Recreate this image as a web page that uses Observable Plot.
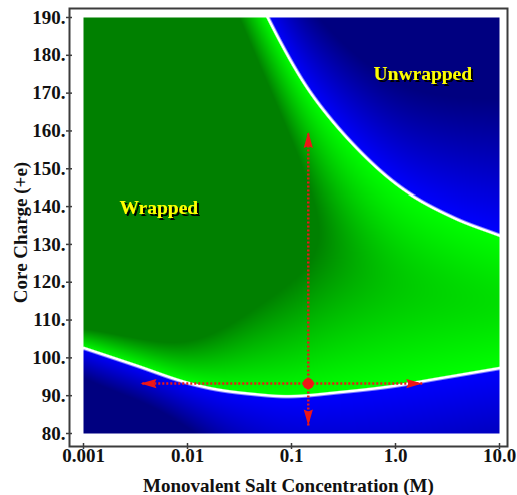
<!DOCTYPE html>
<html><head><meta charset="utf-8">
<script src="https://cdn.jsdelivr.net/npm/d3@7"></script>
<script src="https://cdn.jsdelivr.net/npm/@observablehq/plot@0.6"></script>
<style>body{margin:0;background:#fff}</style>
</head><body><div id="chart"></div>
<script>
// ---- data ----
const saltTicks = [0.001, 0.01, 0.1, 1.0, 10.0];
const saltTickLabels = ["0.001", "0.01", "0.1", "1.0", "10.0"];
const chargeTicks = [80, 90, 100, 110, 120, 130, 140, 150, 160, 170, 180, 190];

// upper (wrapped -> unwrapped) boundary; first points lie above the visible range
const upperSalt   = [0.001, 0.003, 0.01, 0.03, 0.058, 0.12, 0.2, 0.52, 1.2, 3.6, 10];
const upperCharge = [325, 282, 240, 207, 190, 174.1, 165.4, 152.7, 144.3, 137.1, 132.4];
// lower boundary
const lowerSalt   = [0.001, 0.00316, 0.00957, 0.0186, 0.0404, 0.0916, 0.296, 0.895, 2.71, 10];
const lowerCharge = [102.74, 98.16, 93.67, 91.82, 90.63, 89.97, 91.1, 92.6, 94.8, 97.45];

// widths (charge units) over which the shading fades away from each boundary
const fadeSalt       = [0.001, 0.01, 0.1, 1, 10];
const greenLowerFade = [5, 11, 30, 50, 55];
const greenUpperFade = [15, 15, 20, 45, 55];
const blueLowerFade  = [8, 12, 30, 35, 35];
const blueUpperFade  = [18, 20, 22, 27, 36];

const regionLabels = ["Wrapped", "Unwrapped"];
const regionSalt   = [0.0053, 1.83];
const regionCharge = [139.8, 175.2];

const pointSalt = 0.145, pointCharge = 93.2;
const tipSalt   = [0.145, 0.145, 0.00353, 1.81];
const tipCharge = [159.7, 82.1, 93.2, 93.2];

// ---- layout ----
const W = 517, H = 495;
const mL = 69, mT = 8, mR = 10, mB = 49;
const xDomain = [-3 - 14 / 104, 1 + 8 / 104];
const yDomain = [80 - 13 / 3.782, 190 + 9 / 3.782];
const kx = (W - mL - mR) / (xDomain[1] - xDomain[0]);
const ky = (H - mT - mB) / (yDomain[1] - yDomain[0]);

function hermite(xs, ys, clampEnds) {
  const n = xs.length, m = new Array(n);
  for (let i = 0; i < n; i++) {
    if (i === 0) m[i] = (ys[1] - ys[0]) / (xs[1] - xs[0]);
    else if (i === n - 1) m[i] = (ys[n - 1] - ys[n - 2]) / (xs[n - 1] - xs[n - 2]);
    else m[i] = ((ys[i + 1] - ys[i]) / (xs[i + 1] - xs[i]) + (ys[i] - ys[i - 1]) / (xs[i] - xs[i - 1])) / 2;
  }
  return u => {
    if (u <= xs[0]) return clampEnds ? ys[0] : ys[0] + m[0] * (u - xs[0]);
    if (u >= xs[n - 1]) return clampEnds ? ys[n - 1] : ys[n - 1] + m[n - 1] * (u - xs[n - 1]);
    let i = 0; while (u > xs[i + 1]) i++;
    const h = xs[i + 1] - xs[i], t = (u - xs[i]) / h, t2 = t * t, t3 = t2 * t;
    return (2 * t3 - 3 * t2 + 1) * ys[i] + (t3 - 2 * t2 + t) * h * m[i] + (-2 * t3 + 3 * t2) * ys[i + 1] + (t3 - t2) * h * m[i + 1];
  };
}
const L = a => a.map(Math.log10);
const upperAt = hermite(L(upperSalt), upperCharge);
const lowerAt = hermite(L(lowerSalt), lowerCharge);
const gLo = hermite(L(fadeSalt), greenLowerFade, true);
const gUp = hermite(L(fadeSalt), greenUpperFade, true);
const bLo = hermite(L(fadeSalt), blueLowerFade, true);
const bUp = hermite(L(fadeSalt), blueUpperFade, true);

function edge(p, r, g, b, w) {
  if (p <= 0.7) return "rgb(255,255,255)";
  const k = Math.min(1, (p - 0.7) / w);
  const mix = (a) => Math.round(255 + (a - 255) * k);
  return `rgb(${mix(r)},${mix(g)},${mix(b)})`;
}
function colorAt(u, c) {
  const lo = lowerAt(u), up = upperAt(u), e = 1e-3;
  const sLo = (lowerAt(u + e) - lowerAt(u - e)) / (2 * e) * ky / kx;
  const sUp = (upperAt(u + e) - upperAt(u - e)) / (2 * e) * ky / kx;
  const pLo = Math.abs(c - lo) * ky / Math.hypot(1, sLo);
  const pUp = Math.abs(c - up) * ky / Math.hypot(1, sUp);
  if (c > lo && c < up) {
    const a = (c - lo) / gLo(u), b = (up - c) / gUp(u);
    const t = Math.min(1, Math.pow(Math.pow(a, -3) + Math.pow(b, -3), -1 / 3));
    const G = 255 - 127 * t;
    return edge(Math.min(pLo, pUp), 0, G, 0, 1.2);
  }
  const below = c <= lo;
  const d = below ? lo - c : c - up;
  const t = Math.min(1, d / (below ? bLo(u) : bUp(u)));
  const B = 255 - 127 * t;
  return edge(below ? pLo : pUp, 0, 0, B, 2);
}

const tips = tipSalt.map((s, i) => ({u: Math.log10(s), c: tipCharge[i]}));
const pu = Math.log10(pointSalt);
tips.forEach(t => {
  t.rot = Math.abs(t.u - pu) < 1e-9 ? (t.c > pointCharge ? 0 : 180) : (t.u > pu ? 90 : -90);
});
const headSymbol = {
  draw(ctx) { ctx.moveTo(0, 0); ctx.lineTo(4.6, 16); ctx.lineTo(0, 14); ctx.lineTo(-4.6, 16); ctx.closePath(); }
};
const labels = regionLabels.map((t, i) => ({t, u: Math.log10(regionSalt[i]), c: regionCharge[i]}));
const tickLabel = d => saltTickLabels[saltTicks.findIndex(s => Math.abs(Math.log10(s) - d) < 1e-9)];
const red = "#ee1616";
const font = "Liberation Serif, Times New Roman, serif";

const chart = Plot.plot({
  width: W, height: H,
  marginLeft: mL, marginTop: mT, marginRight: mR, marginBottom: mB,
  style: {fontFamily: font, fontWeight: "bold", background: "#fff", color: "#000"},
  x: {type: "linear", domain: xDomain},
  y: {type: "linear", domain: yDomain},
  color: {type: "identity"},
  marks: [
    Plot.raster({x1: -3, x2: 1, y1: 80, y2: 190, width: 416, height: 416, fill: colorAt, imageRendering: "pixelated"}),
    Plot.frame({stroke: "#3c3c3c", strokeWidth: 2}),
    Plot.axisX(L(saltTicks), {anchor: "bottom", tickSize: 6, dy: -3, tickFormat: () => "", label: null, stroke: "#3c3c3c", strokeWidth: 1.5}),
    Plot.axisX(L(saltTicks), {anchor: "bottom", tickSize: 0, tickPadding: 2, tickFormat: tickLabel, label: null, fontSize: 19, fontWeight: "bold", fill: "#111"}),
    Plot.axisY(chargeTicks, {anchor: "left", tickSize: 6, dx: 3, tickFormat: () => "", label: null, stroke: "#3c3c3c", strokeWidth: 1.5}),
    Plot.axisY(chargeTicks, {anchor: "left", tickSize: 0, tickPadding: 4, tickFormat: d => d + ".", label: null, fontSize: 19, fontWeight: "bold", fill: "#111"}),
    Plot.text(["Monovalent Salt Concentration (M)"], {frameAnchor: "bottom", dy: 39, textAnchor: "middle", lineAnchor: "middle", fontSize: 19, fontWeight: "bold", fill: "#111"}),
    Plot.text(["Core Charge (+e)"], {frameAnchor: "left", dx: -49, dy: 5, rotate: -90, textAnchor: "middle", lineAnchor: "middle", fontSize: 19, fontWeight: "bold", fill: "#111"}),
    Plot.text(labels, {x: "u", y: "c", text: "t", fill: "#ffff00", fontSize: 19.5, fontWeight: "bold"}),
    Plot.link(tips, {x1: () => pu, y1: () => pointCharge, x2: "u", y2: "c", stroke: red, strokeWidth: 2.5, strokeDasharray: "2,2", strokeLinecap: "butt"}),
    Plot.dot(tips, {x: "u", y: "c", rotate: "rot", symbol: headSymbol, fill: red, stroke: "none", r: 5}),
    Plot.dot([pointSalt], {x: d => Math.log10(d), y: () => pointCharge, r: 5.5, fill: red})
  ]
});
// drop shadow behind the yellow region labels
const ns = "http://www.w3.org/2000/svg";
const defs = document.createElementNS(ns, "defs");
const filt = document.createElementNS(ns, "filter");
filt.setAttribute("id", "lblshadow");
filt.setAttribute("x", "-20%"); filt.setAttribute("y", "-40%");
filt.setAttribute("width", "140%"); filt.setAttribute("height", "180%");
const parts = [
  ["feOffset", {in: "SourceAlpha", dx: "1.7", dy: "1.7", result: "off"}],
  ["feFlood", {"flood-color": "#000", "flood-opacity": "1", result: "blk"}],
  ["feComposite", {in: "blk", in2: "off", operator: "in", result: "shadow"}]
];
for (const [tag, attrs] of parts) {
  const el = document.createElementNS(ns, tag);
  for (const k in attrs) el.setAttribute(k, attrs[k]);
  filt.appendChild(el);
}
const merge = document.createElementNS(ns, "feMerge");
for (const src of ["shadow", "SourceGraphic"]) {
  const n = document.createElementNS(ns, "feMergeNode");
  n.setAttribute("in", src);
  merge.appendChild(n);
}
filt.appendChild(merge);
defs.appendChild(filt);
chart.appendChild(defs);
chart.querySelectorAll("text").forEach(t => {
  if (regionLabels.includes(t.textContent)) t.setAttribute("filter", "url(#lblshadow)");
});
document.getElementById("chart").appendChild(chart);
</script>
</body></html>
